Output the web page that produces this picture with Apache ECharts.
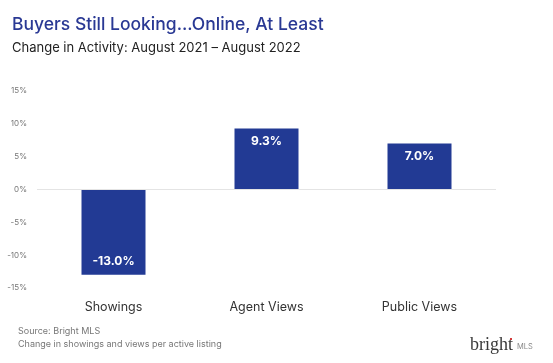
<!DOCTYPE html>
<html>
<head>
<meta charset="utf-8">
<script src="https://cdn.jsdelivr.net/npm/echarts@6/dist/echarts.min.js"></script>
<style>
html,body{margin:0;padding:0;background:#fff;}
#c{width:553px;height:363px;}
</style>
</head>
<body>
<div id="c"></div>
<script>
const categories = ['Showings', 'Agent Views', 'Public Views'];
const changeValues = [-13.0, 9.3, 7.0];
const yTicks = [-15, -10, -5, 0, 5, 10, 15];

const chart = echarts.init(document.getElementById('c'), null, {renderer: 'canvas'});
const FONT = 'Inter, "Noto Sans", sans-serif';
chart.setOption({
  animation: false,
  backgroundColor: '#ffffff',
  title: [
    {text: 'Buyers Still Looking...Online, At Least', left: 7, top: 11,
     textStyle: {fontFamily: FONT, fontSize: 17.5, fontWeight: 500, color: '#2a3994'}},
    {text: 'Change in Activity: August 2021 \u2013 August 2022', left: 7, top: 37,
     textStyle: {fontFamily: FONT, fontSize: 13, fontWeight: 400, color: '#222'}}
  ],
  grid: {left: 37, right: 57, top: 91, bottom: 75},
  xAxis: {
    type: 'category', data: categories,
    axisLine: {show: false}, axisTick: {show: false},
    axisLabel: {fontFamily: FONT, fontSize: 12.5, color: '#333', margin: 13}
  },
  yAxis: {
    type: 'value', min: yTicks[0], max: yTicks[yTicks.length - 1], interval: 5,
    axisLine: {show: false}, axisTick: {show: false},
    splitLine: {show: false},
    axisLabel: {fontFamily: FONT, fontSize: 8, color: '#777', margin: 10,
      formatter: v => v + '%'}
  },
  series: [{
    type: 'bar', barWidth: 64,
    data: changeValues.map(v => ({
      value: v,
      label: {position: v < 0 ? 'insideBottom' : 'insideTop', distance: 7}
    })),
    itemStyle: {color: '#223a94'},
    label: {show: true, fontFamily: FONT, fontSize: 12, fontWeight: 700, color: '#fff',
      formatter: p => p.value.toFixed(1) + '%'},
    markLine: {
      silent: true, symbol: 'none', label: {show: false},
      lineStyle: {color: '#e4e4e4', type: 'solid', width: 1},
      data: [{yAxis: 0}]
    },
    z: 3
  }],
  graphic: [
    {type: 'text', left: 18, top: 327, style: {text: 'Source: Bright MLS', fontFamily: FONT, fontSize: 9, fill: '#777'}},
    {type: 'text', left: 18, top: 340, style: {text: 'Change in showings and views per active listing', fontFamily: FONT, fontSize: 9, fill: '#777'}},
    {type: 'text', left: 470, top: 336, style: {text: 'bright', fontFamily: '"Liberation Serif", "DejaVu Serif", serif', fontSize: 18, fill: '#3a3a3a'}},
    {type: 'rect', shape: {x: 510, y: 338, width: 2, height: 2}, style: {fill: '#d23a3a'}},
    {type: 'text', left: 517, top: 343, style: {text: 'MLS', fontFamily: FONT, fontSize: 7.5, fill: '#888'}}
  ]
});
</script>
</body>
</html>
